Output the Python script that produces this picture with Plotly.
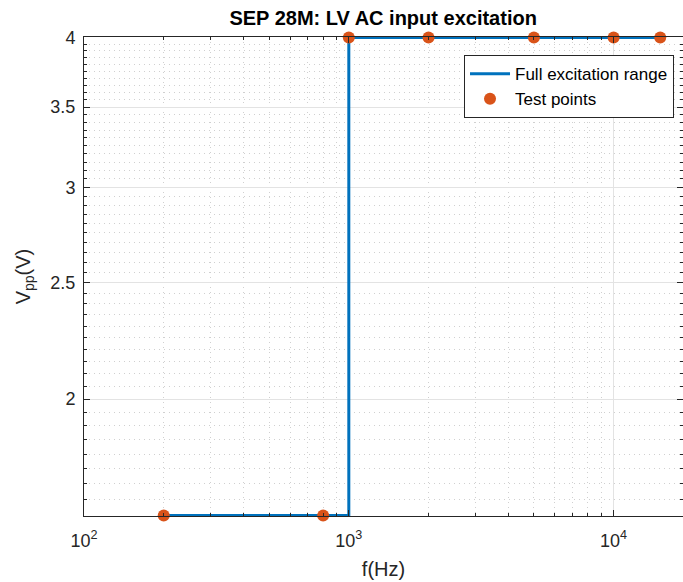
import math
import plotly.graph_objects as go

# Data
line_freq = [200, 1000, 1000, 15000]
line_vpp = [1.6, 1.6, 4, 4]
test_freq = [200, 800, 1000, 2000, 5000, 10000, 15000]
test_vpp = [1.6, 1.6, 4, 4, 4, 4, 4]
x_tickvals = [100, 1000, 10000]
x_ticktext = ["10<sup>2</sup>", "10<sup>3</sup>", "10<sup>4</sup>"]
y_tickvals = [2, 2.5, 3, 3.5, 4]
y_ticktext = ["2", "2.5", "3", "3.5", "4"]

BLUE = "#0072BD"
ORANGE = "#D95319"
FONT = "Liberation Sans, Arial, sans-serif"
AX = "#262626"

fig = go.Figure()
fig.add_trace(go.Scatter(x=line_freq, y=line_vpp, mode="lines",
                         line=dict(color=BLUE, width=3),
                         name="Full excitation range", cliponaxis=False))
fig.add_trace(go.Scatter(x=test_freq, y=test_vpp, mode="markers",
                         marker=dict(color=ORANGE, size=12),
                         name="Test points", cliponaxis=False))

axis_common = dict(
    showline=True, linecolor=AX, linewidth=1, mirror="ticks",
    ticks="inside", ticklen=6, tickcolor=AX,
    showgrid=True, gridcolor="#E3E3E3", gridwidth=1,
    zeroline=False,
    tickfont=dict(family=FONT, size=18, color=AX),
)
minor_common = dict(ticks="inside", ticklen=3, tickcolor=AX,
                    showgrid=True, gridcolor="#D0D0D0", griddash="1px,4px")

fig.update_xaxes(type="log", range=[2, 4.262],
                 tickvals=x_tickvals, ticktext=x_ticktext,
                 ticklabelstandoff=8,
                 minor=dict(dtick="D1", **minor_common),
                 title=dict(text="f(Hz)", font=dict(family=FONT, size=20, color=AX), standoff=12),
                 **axis_common)
fig.update_yaxes(type="log", range=[math.log10(1.6) - 0.0004, math.log10(4) + 0.0004],
                 tickvals=y_tickvals, ticktext=y_ticktext,
                 ticklabelstandoff=4,
                 minor=dict(dtick="L0.05", **minor_common),
                 title=dict(text="V<sub>pp</sub>(V)", font=dict(family=FONT, size=20, color=AX), standoff=14),
                 **axis_common)

fig.update_layout(
    width=683, height=582,
    margin=dict(l=84, r=0, t=37, b=66),
    plot_bgcolor="white", paper_bgcolor="white",
    title=dict(text="<b>SEP 28M: LV AC input excitation</b>", x=0.561, xanchor="center",
               y=0.969, yanchor="middle",
               font=dict(family=FONT, size=20, color="black")),
    legend=dict(x=0.985, y=0.962, xanchor="right", yanchor="top",
                bgcolor="white", bordercolor=AX, borderwidth=1,
                font=dict(family=FONT, size=17, color="black"),
                tracegroupgap=0, itemwidth=40),
    showlegend=True,
)

fig.write_html("out.html")
